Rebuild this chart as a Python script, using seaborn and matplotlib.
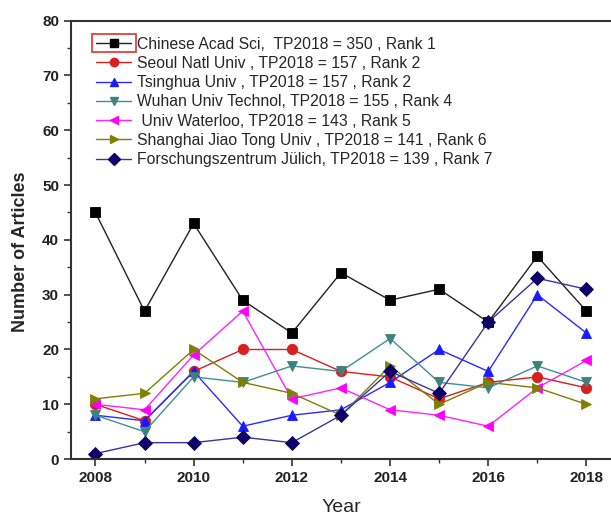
import matplotlib
matplotlib.use("Agg")
import matplotlib.pyplot as plt
from matplotlib.patches import Rectangle
from matplotlib.lines import Line2D
from matplotlib.ticker import MultipleLocator
import seaborn as sns
import pandas as pd

years = list(range(2008, 2019))
cas = [45, 27, 43, 29, 23, 34, 29, 31, 25, 37, 27]
seoul = [10, 7, 16, 20, 20, 16, 15, 11, 14, 15, 13]
tsinghua = [8, 7, 16, 6, 8, 9, 14, 20, 16, 30, 23]
wuhan = [8, 5, 15, 14, 17, 16, 22, 14, 13, 17, 14]
waterloo = [10, 9, 19, 27, 11, 13, 9, 8, 6, 13, 18]
sjtu = [11, 12, 20, 14, 12, 8, 17, 10, 14, 13, 10]
julich = [1, 3, 3, 4, 3, 8, 16, 12, 25, 33, 31]

labels = [
    "Chinese Acad Sci,  TP2018 = 350 , Rank 1",
    "Seoul Natl Univ , TP2018 = 157 , Rank 2",
    "Tsinghua Univ , TP2018 = 157 , Rank 2",
    "Wuhan Univ Technol, TP2018 = 155 , Rank 4",
    " Univ Waterloo, TP2018 = 143 , Rank 5",
    "Shanghai Jiao Tong Univ , TP2018 = 141 , Rank 6",
    "Forschungszentrum Jülich, TP2018 = 139 , Rank 7",
]
series = [cas, seoul, tsinghua, wuhan, waterloo, sjtu, julich]
colors = ["#000000", "#d81e1e", "#1a1aff", "#3f8080", "#ff00ff", "#7f7f00", "#0d0066"]
line_colors = ["#222222", "#d81e1e", "#2a2aff", "#3f8f8f", "#ff22ff", "#7f7f00", "#3a33a0"]
markers = ["s", "o", "^", "v", "<", ">", "D"]

rows = []
for lab, vals in zip(labels, series):
    for y, v in zip(years, vals):
        rows.append({"Year": y, "Articles": v, "inst": lab})
df = pd.DataFrame(rows)

sns.set_style("white")
plt.rcParams['font.family'] = ['Liberation Sans', 'DejaVu Sans']

fig = plt.figure(figsize=(6.11, 5.17), dpi=100)
ax = fig.add_axes([0.116, 0.112, 0.884, 0.848])

sns.lineplot(data=df, x="Year", y="Articles", hue="inst", style="inst",
             hue_order=labels, style_order=labels, palette=colors,
             markers=dict(zip(labels, markers)), dashes=False,
             markersize=7.5, markeredgewidth=0.6, linewidth=1.0, ax=ax, legend=False)

# make lines and markers match the original styling
for ln, lc, mc in zip(ax.get_lines(), line_colors, colors):
    ln.set_color(lc)
    ln.set_markerfacecolor(mc)
    ln.set_markeredgecolor(mc)

handles = [Line2D([], [], color=lc, marker=m, markerfacecolor=mc, markeredgecolor=mc,
                  markersize=6, linewidth=1.0)
           for lc, mc, m in zip(line_colors, colors, markers)]
leg = ax.legend(handles, labels, loc="upper left", frameon=False, fontsize=11.3,
                handlelength=2.25, handletextpad=0.33, labelspacing=0.27,
                borderaxespad=0.0, bbox_to_anchor=(0.035, 0.978))

ax.set_xlim(2007.5, 2018.5)
ax.set_ylim(0, 80)
ax.xaxis.set_major_locator(MultipleLocator(2))
ax.xaxis.set_minor_locator(MultipleLocator(1))
ax.yaxis.set_major_locator(MultipleLocator(10))
ax.yaxis.set_minor_locator(MultipleLocator(5))
ax.tick_params(which="both", direction="out", bottom=True, left=True, colors="#333333",
               labelcolor="#222222")
ax.tick_params(which="major", length=5, width=1.2, labelsize=11)
ax.tick_params(which="minor", length=3, width=1.0)
for lab in ax.get_xticklabels() + ax.get_yticklabels():
    lab.set_fontweight("bold")

for s in ["left", "bottom", "top"]:
    ax.spines[s].set_color("#333333")
    ax.spines[s].set_linewidth(1.5)
ax.spines["right"].set_visible(False)

ax.set_xlabel("Year", fontsize=14, labelpad=10)
ax.set_ylabel("Number of Articles", fontsize=13, fontweight="bold")
ax.yaxis.set_label_coords(-0.078, 0.472)

# red selection box around the first legend handle
fig.canvas.draw()
bb = leg.legend_handles[0].get_window_extent(fig.canvas.get_renderer())
inv = fig.transFigure.inverted()
(x0, y0), (x1, y1) = inv.transform([[bb.x0, bb.y0], [bb.x1, bb.y1]])
cy = (y0 + y1) / 2
h = 18 / 517
fig.patches.append(Rectangle((x0, cy - h / 2), x1 - x0, h, transform=fig.transFigure,
                             fill=False, edgecolor="#e03030", linewidth=1.2))

fig.savefig("out.png", dpi=100)
